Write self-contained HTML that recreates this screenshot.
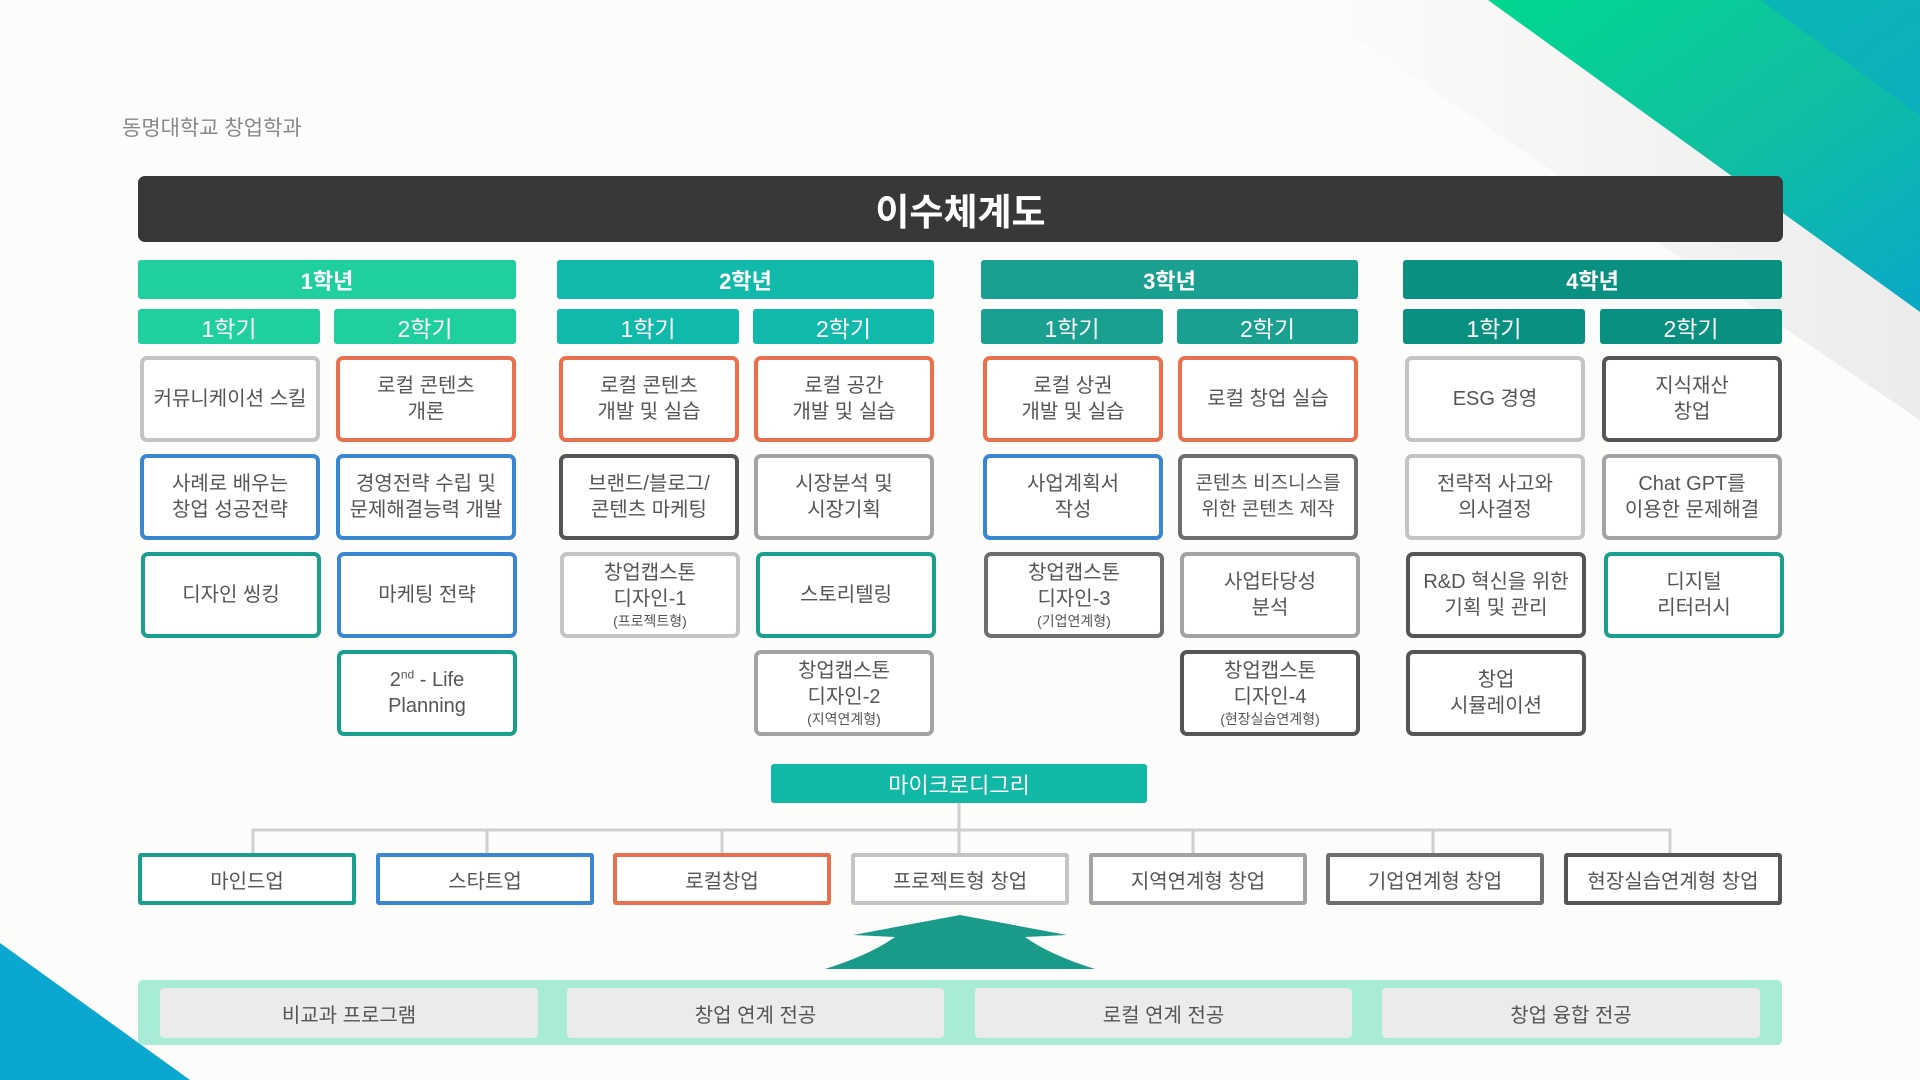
<!DOCTYPE html>
<html><head><meta charset="utf-8"><style>
*{margin:0;padding:0;box-sizing:border-box}
body{width:1920px;height:1080px;position:relative;overflow:hidden;background:#fcfcfa;font-family:"Liberation Sans","Noto Sans CJK KR",sans-serif}
.a{position:absolute}
.h{display:flex;align-items:center;justify-content:center;color:#fff;text-align:center;border-radius:3px}
.b{position:absolute;width:180px;height:86px;border:4px solid #c0c0c0;border-radius:7px;background:#fff;display:flex;flex-direction:column;align-items:center;justify-content:center;text-align:center;color:#555;font-size:20px;line-height:26px}
.b small{font-size:14px;line-height:18px}
.m{position:absolute;top:853px;width:218px;height:52px;border:4px solid #c0c0c0;border-radius:3px;background:#fff;display:flex;align-items:center;justify-content:center;color:#555;font-size:20px}
.s{position:absolute;top:988px;height:50px;background:#ebebeb;border-radius:4px;display:flex;align-items:center;justify-content:center;color:#555;font-size:20px}
.O{border-color:#e9704f}.B{border-color:#3a86d2}.D{border-color:#555}.G{border-color:#a3a3a3}.T{border-color:#1a9e8e}.L{border-color:#c4c4c4}.M{border-color:#6e6e6e}
</style></head><body>
<svg class="a" style="left:0;top:0" width="1920" height="1080">
<defs><linearGradient id="g1" x1="0" y1="0" x2="1" y2="1"><stop offset="0" stop-color="#00d890"/><stop offset="0.5" stop-color="#10c0a0"/><stop offset="1" stop-color="#0aa8c8"/></linearGradient>
<linearGradient id="g2" x1="0" y1="0" x2="1" y2="0"><stop offset="0" stop-color="#fcfcfa"/><stop offset="1" stop-color="#ececec"/></linearGradient></defs>
<polygon points="1300,0 1488,0 1920,312 1920,420" fill="url(#g2)"/>
<polygon points="1488,0 1920,0 1920,312" fill="url(#g1)"/>
<polygon points="1760,0 1920,0 1920,115" fill="#0aa8c8" opacity="0.6"/>
<polygon points="0,943 0,1080 190,1080" fill="#0aa8d0"/>
<polyline points="253,853 253,830 1670,830 1670,853" fill="none" stroke="#cfcfcf" stroke-width="3"/>
<line x1="959" y1="803" x2="959" y2="853" stroke="#cfcfcf" stroke-width="3"/>
<line x1="487" y1="830" x2="487" y2="853" stroke="#cfcfcf" stroke-width="3"/>
<line x1="722" y1="830" x2="722" y2="853" stroke="#cfcfcf" stroke-width="3"/>
<line x1="1193" y1="830" x2="1193" y2="853" stroke="#cfcfcf" stroke-width="3"/>
<line x1="1433" y1="830" x2="1433" y2="853" stroke="#cfcfcf" stroke-width="3"/>
<rect x="138" y="980" width="1644" height="65" rx="5" fill="#a8ecd8"/>
<path d="M960,915 L1067,935 L1025,937 Q1050,955 1095,969 L825,969 Q870,955 895,937 L853,935 Z" fill="#1a9a88"/>
</svg>
<div class="a" style="left:122px;top:112px;font-size:21px;color:#888">동명대학교 창업학과</div>
<div class="a h" style="left:138px;top:176px;width:1645px;height:66px;background:#383838;border-radius:7px;font-size:37px;font-weight:bold">이수체계도</div>

<div class="a h" style="left:138px;top:260px;width:378px;height:39px;background:#20cf9e;font-size:22px;font-weight:bold">1학년</div>
<div class="a h" style="left:557px;top:260px;width:377px;height:39px;background:#10b9a9;font-size:22px;font-weight:bold">2학년</div>
<div class="a h" style="left:981px;top:260px;width:377px;height:39px;background:#1aa090;font-size:22px;font-weight:bold">3학년</div>
<div class="a h" style="left:1403px;top:260px;width:379px;height:39px;background:#0a9080;font-size:22px;font-weight:bold">4학년</div>

<div class="a h" style="left:138px;top:309px;width:182px;height:35px;background:#20cf9e;font-size:23px">1학기</div>
<div class="a h" style="left:334px;top:309px;width:182px;height:35px;background:#20cf9e;font-size:23px">2학기</div>
<div class="a h" style="left:557px;top:309px;width:182px;height:35px;background:#10b9a9;font-size:23px">1학기</div>
<div class="a h" style="left:753px;top:309px;width:181px;height:35px;background:#10b9a9;font-size:23px">2학기</div>
<div class="a h" style="left:981px;top:309px;width:182px;height:35px;background:#1aa090;font-size:23px">1학기</div>
<div class="a h" style="left:1177px;top:309px;width:181px;height:35px;background:#1aa090;font-size:23px">2학기</div>
<div class="a h" style="left:1403px;top:309px;width:182px;height:35px;background:#0a9080;font-size:23px">1학기</div>
<div class="a h" style="left:1600px;top:309px;width:182px;height:35px;background:#0a9080;font-size:23px">2학기</div>

<div class="b L" style="left:140px;top:356px">커뮤니케이션 스킬</div>
<div class="b B" style="left:140px;top:454px">사례로 배우는<br>창업 성공전략</div>
<div class="b T" style="left:141px;top:552px">디자인 씽킹</div>

<div class="b O" style="left:336px;top:356px">로컬 콘텐츠<br>개론</div>
<div class="b B" style="left:336px;top:454px">경영전략 수립 및<br>문제해결능력 개발</div>
<div class="b B" style="left:337px;top:552px">마케팅 전략</div>
<div class="b T" style="left:337px;top:650px"><span>2<sup style="font-size:12px;line-height:0">nd</sup> - Life</span><span>Planning</span></div>

<div class="b O" style="left:559px;top:356px">로컬 콘텐츠<br>개발 및 실습</div>
<div class="b D" style="left:559px;top:454px">브랜드/블로그/<br>콘텐츠 마케팅</div>
<div class="b L" style="left:560px;top:552px">창업캡스톤<br>디자인-1<small>(프로젝트형)</small></div>

<div class="b O" style="left:754px;top:356px">로컬 공간<br>개발 및 실습</div>
<div class="b G" style="left:754px;top:454px">시장분석 및<br>시장기획</div>
<div class="b T" style="left:756px;top:552px">스토리텔링</div>
<div class="b G" style="left:754px;top:650px">창업캡스톤<br>디자인-2<small>(지역연계형)</small></div>

<div class="b O" style="left:983px;top:356px">로컬 상권<br>개발 및 실습</div>
<div class="b B" style="left:983px;top:454px">사업계획서<br>작성</div>
<div class="b M" style="left:984px;top:552px">창업캡스톤<br>디자인-3<small>(기업연계형)</small></div>

<div class="b O" style="left:1178px;top:356px">로컬 창업 실습</div>
<div class="b M" style="left:1178px;top:454px;font-size:19px">콘텐츠 비즈니스를<br>위한 콘텐츠 제작</div>
<div class="b G" style="left:1180px;top:552px">사업타당성<br>분석</div>
<div class="b D" style="left:1180px;top:650px">창업캡스톤<br>디자인-4<small>(현장실습연계형)</small></div>

<div class="b L" style="left:1405px;top:356px">ESG 경영</div>
<div class="b L" style="left:1405px;top:454px">전략적 사고와<br>의사결정</div>
<div class="b D" style="left:1406px;top:552px">R&amp;D 혁신을 위한<br>기획 및 관리</div>
<div class="b D" style="left:1406px;top:650px">창업<br>시뮬레이션</div>

<div class="b D" style="left:1602px;top:356px">지식재산<br>창업</div>
<div class="b G" style="left:1602px;top:454px">Chat GPT를<br>이용한 문제해결</div>
<div class="b T" style="left:1604px;top:552px">디지털<br>리터러시</div>

<div class="a h" style="left:771px;top:764px;width:376px;height:39px;background:#12b8a6;font-size:22px">마이크로디그리</div>

<div class="m T" style="left:138px">마인드업</div>
<div class="m B" style="left:376px">스타트업</div>
<div class="m O" style="left:613px">로컬창업</div>
<div class="m L" style="left:851px">프로젝트형 창업</div>
<div class="m G" style="left:1089px">지역연계형 창업</div>
<div class="m M" style="left:1326px">기업연계형 창업</div>
<div class="m D" style="left:1564px">현장실습연계형 창업</div>

<div class="s" style="left:160px;width:378px">비교과 프로그램</div>
<div class="s" style="left:567px;width:377px">창업 연계 전공</div>
<div class="s" style="left:975px;width:377px">로컬 연계 전공</div>
<div class="s" style="left:1382px;width:378px">창업 융합 전공</div>
</body></html>
